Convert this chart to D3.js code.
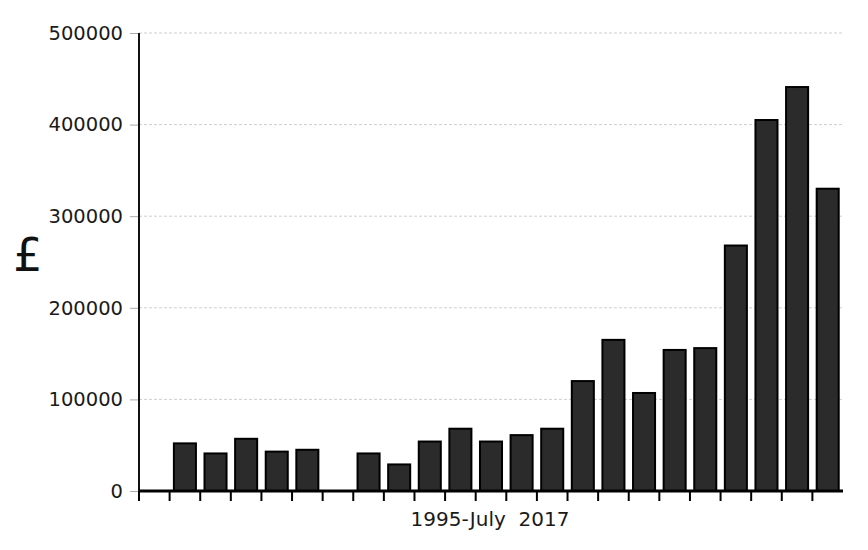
<!DOCTYPE html>
<html>
<head>
<meta charset="utf-8">
<script src="https://cdn.jsdelivr.net/npm/d3@7"></script>
<style>
  body { margin: 0; background: #fff; }
  svg { display: block; font-family: "DejaVu Sans", sans-serif; }
</style>
</head>
<body>
<svg id="chart" width="868" height="550"></svg>
<script>
const years = ["1995","1996","1997","1998","1999","2000","2001","2002","2003","2004","2005","2006","2007","2008","2009","2010","2011","2012","2013","2014","2015","2016","2017"];
const values = [0,52000,41000,57000,43000,45000,0,41000,29000,54000,68000,54000,61000,68000,120000,165000,107000,154000,156000,268000,405000,441000,330000];
const yTicks = [0,100000,200000,300000,400000,500000];
const xTitle = "1995-July\u00a0\u00a02017";
const yTitle = "£";

const svg = d3.select("#chart");
const mLeft = 139, mRight = 843, mTop = 33, mBottom = 491;

const x = d3.scaleBand().domain(years).range([mLeft, mRight]).paddingInner(0.28).paddingOuter(0.14);
const y = d3.scaleLinear().domain([0, 500000]).range([mBottom, mTop]);
const step = x.step();
const halfGap = step * 0.14;

// gridlines
svg.append("g").selectAll("line").data(yTicks.filter(d => d > 0)).join("line")
  .attr("x1", mLeft).attr("x2", mRight)
  .attr("y1", d => y(d)).attr("y2", d => y(d))
  .attr("stroke", "#cfcfcf").attr("stroke-width", 1).attr("stroke-dasharray", "3,2");

// y axis
const yAxis = svg.append("g").attr("transform", `translate(${mLeft},0)`)
  .call(d3.axisLeft(y).tickValues(yTicks).tickFormat(d3.format("d")).tickSize(9).tickPadding(7));
yAxis.select(".domain").remove();
yAxis.selectAll(".tick line").attr("stroke", "#aaa");
yAxis.selectAll(".tick text").attr("font-size", 19.5).attr("fill", "#1a1a1a").attr("font-family", "DejaVu Sans");
svg.append("line").attr("x1", mLeft).attr("x2", mLeft).attr("y1", mTop).attr("y2", mBottom)
  .attr("stroke", "#111").attr("stroke-width", 2);

// bars
svg.append("g").selectAll("rect").data(years).join("rect")
  .attr("x", d => x(d))
  .attr("width", x.bandwidth())
  .attr("y", (d, i) => y(values[i]))
  .attr("height", (d, i) => y(0) - y(values[i]))
  .attr("fill", "#2b2b2b").attr("stroke", "#000").attr("stroke-width", 2);

// x axis with ticks at band left edges
const xAxis = svg.append("g").attr("transform", `translate(0,${mBottom})`);
xAxis.append("line").attr("x1", mLeft).attr("x2", mRight).attr("stroke", "#000").attr("stroke-width", 3);
xAxis.selectAll("line.tk").data(years).join("line").attr("class", "tk")
  .attr("x1", d => x(d) - halfGap).attr("x2", d => x(d) - halfGap)
  .attr("y1", 0).attr("y2", 10).attr("stroke", "#000").attr("stroke-width", 2);

svg.append("text").attr("x", 490).attr("y", 526)
  .attr("text-anchor", "middle").attr("font-size", 20).attr("fill", "#1a1a1a").text(xTitle);

svg.append("text").attr("x", 28).attr("y", 271)
  .attr("text-anchor", "middle").attr("font-size", 46).attr("fill", "#111").text(yTitle);
</script>
</body>
</html>
